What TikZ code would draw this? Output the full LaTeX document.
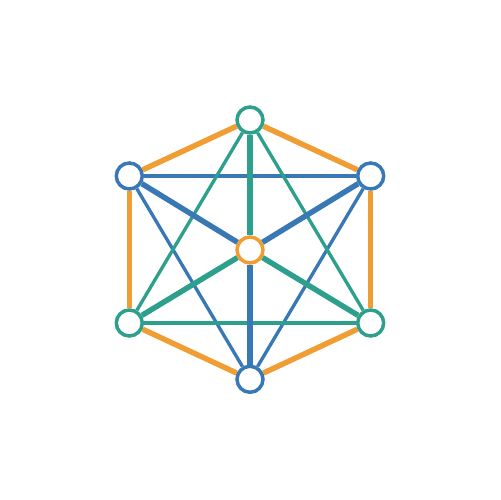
\documentclass[tikz,border=0pt]{standalone}
\usepackage{tikz}
\usetikzlibrary{arrows.meta, positioning, calc}
\usepackage{xcolor}
\definecolor{hexorange}{RGB}{240,158,52}
\definecolor{tealc}{RGB}{44,160,140}
\definecolor{bluec}{RGB}{56,120,180}

\begin{document}
\begin{tikzpicture}[
    x=0.02cm, y=0.02cm,
    vtx/.style={circle, draw, fill=white, line width=2pt,
                inner sep=0pt, minimum size=0.52cm},
    rim/.style={hexorange, line width=3.1pt},
    thin/.style={line width=1.9pt},
    spoke/.style={line width=3.1pt}
  ]
  \useasboundingbox (-250,-250) rectangle (250,250);
  \node[vtx, draw=tealc]     (top) at (0,130)      {};
  \node[vtx, draw=bluec]     (ur)  at (120.7,74)   {};
  \node[vtx, draw=tealc]     (lr)  at (120.7,-73)  {};
  \node[vtx, draw=bluec]     (bot) at (0,-129.3)   {};
  \node[vtx, draw=tealc]     (ll)  at (-120.7,-73) {};
  \node[vtx, draw=bluec]     (ul)  at (-120.7,74)  {};
  \node[vtx, draw=hexorange] (mid) at (0,0)        {};
  % outer hexagon
  \draw[rim] (top) -- (ur);
  \draw[rim] (ur)  -- (lr);
  \draw[rim] (lr)  -- (bot);
  \draw[rim] (bot) -- (ll);
  \draw[rim] (ll)  -- (ul);
  \draw[rim] (ul)  -- (top);
  % the two triangles
  \draw[thin, bluec] (ul) -- (ur);
  \draw[thin, bluec] (ur) -- (bot);
  \draw[thin, bluec] (bot) -- (ul);
  \draw[thin, tealc] (top) -- (lr);
  \draw[thin, tealc] (lr) -- (ll);
  \draw[thin, tealc] (ll) -- (top);
  % spokes
  \draw[spoke, bluec] (mid) -- (ul);
  \draw[spoke, bluec] (mid) -- (ur);
  \draw[spoke, bluec] (mid) -- (bot);
  \draw[spoke, tealc] (mid) -- (top);
  \draw[spoke, tealc] (mid) -- (ll);
  \draw[spoke, tealc] (mid) -- (lr);
\end{tikzpicture}
\end{document}
